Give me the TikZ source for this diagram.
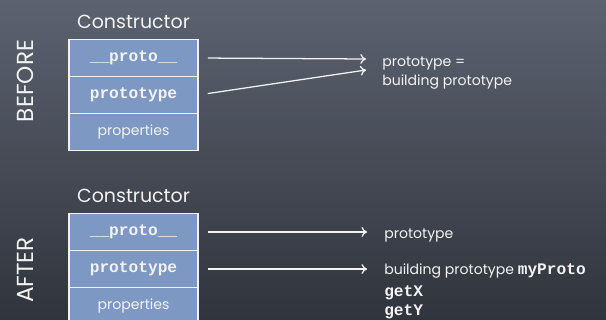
\documentclass[tikz,border=0pt]{standalone}
\usepackage{fontspec}
\setmainfont{Poppins}
\setmonofont{Liberation Mono}
\usetikzlibrary{arrows.meta, positioning}

\definecolor{boardtop}{RGB}{92,98,112}
\definecolor{boardbot}{RGB}{48,52,60}
\definecolor{slotblue}{RGB}{125,152,194}
\definecolor{chalk}{RGB}{242,242,242}

\begin{document}
\begin{tikzpicture}[x=0.025cm, y=-0.025cm,
    slot/.style={draw=chalk, line width=1pt, fill=slotblue, outer sep=0pt, inner sep=0pt,
                 minimum width=3.225cm, minimum height=0.925cm, text=chalk},
    code/.style={font=\fontsize{11.5}{13}\selectfont\ttfamily\bfseries},
    plain/.style={font=\fontsize{10}{12}\selectfont},
    title/.style={text=chalk, font=\fontsize{13.5}{16}\selectfont},
    side/.style={text=chalk, rotate=90, font=\fontsize{16.5}{19}\selectfont},
    note/.style={text=chalk, font=\fontsize{10}{14}\selectfont, inner sep=0pt, anchor=west},
    arr/.style={draw=chalk, line width=0.9pt, -{To[length=4pt, width=7pt]}}]

    % tafel
    \useasboundingbox (0,0) rectangle (606,320);
    \clip (0,0) rectangle (606,320);
    \shade[top color=boardtop, bottom color=boardbot] (0,0) rectangle (606,320);

    % vorher
    \node[slot, code] (bProto) at (133.5,58) {\_\_proto\_\_};
    \node[slot, code, below=0pt of bProto] (bPrototype) {prototype};
    \node[slot, plain, below=0pt of bPrototype] (bProps) {properties};
    \node[title, above=4pt of bProto] (bTitle) {Constructor};
    \node[side] (bLabel) at (25,81) {BEFORE};

    \node[note, align=left] (bTxt) at (382,73) {prototype =\\building prototype};
    \coordinate (bTip1) at (366,59);
    \coordinate (bTip2) at (366,70);
    \draw[arr, shorten <=7pt] (bProto.east) -- (bTip1);
    \draw[arr, shorten <=7pt] (bPrototype.east) -- (bTip2);

    % nachher
    \node[slot, code] (aProto) at (133.5,232) {\_\_proto\_\_};
    \node[slot, code, below=0pt of aProto] (aPrototype) {prototype};
    \node[slot, plain, below=0pt of aPrototype] (aProps) {properties};
    \node[title, above=4pt of aProto] (aTitle) {Constructor};
    \node[side] (aLabel) at (25,270) {AFTER};

    \node[note] (aTxt1) at (384,236) {prototype};
    \node[note] (aTxt2) at (384,271) {building prototype {\fontsize{11.5}{13}\selectfont\ttfamily\bfseries myProto}};
    \node[note, code] (aGetX) at (384,293) {getX};
    \node[note, code] (aGetY) at (384,312) {getY};
    \draw[arr, shorten <=7pt, shorten >=12pt] (aProto.east) -- (aProto.east -| aTxt1.west);
    \draw[arr, shorten <=7pt, shorten >=12pt] (aPrototype.east) -- (aPrototype.east -| aTxt2.west);
\end{tikzpicture}
\end{document}
